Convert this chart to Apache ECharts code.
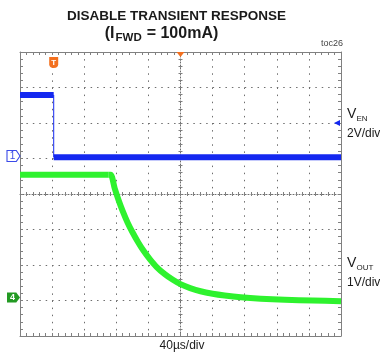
<!DOCTYPE html>
<html><head><meta charset="utf-8">
<script src="https://cdn.jsdelivr.net/npm/echarts@6/dist/echarts.min.js"></script>
<style>html,body{margin:0;padding:0;background:#fff}#c{width:380px;height:354px}</style>
</head><body><div id="c"></div>
<script>
// Time axis in microseconds (40 µs/div, 10 divisions)
const timeMin = -200, timeMax = 200, timeStep = 40;
// Channel 1: V_EN (2 V/div)
const enTime  = [-200, -158, -158, 200];
const enVolts = [3.58, 3.58, 0.07, 0.07];
// Channel 4: V_OUT (1 V/div)
const outFlatTime  = [-200, -90];
const outFlatVolts = [3.54, 3.54];
const outTime  = [-90, -87, -82, -77, -72, -66, -60, -53, -46, -38, -30, -20, -10, 0, 12, 25, 40, 55, 75, 100, 130, 165, 200];
const outVolts = [3.54, 3.54, 3.16, 2.82, 2.52, 2.2, 1.93, 1.65, 1.4, 1.16, 0.95, 0.75, 0.59, 0.46, 0.35, 0.26, 0.19, 0.14, 0.09, 0.05, 0.02, 0.0, -0.02];
const triggerTime = -158;
const triggerLevel = 2;

const BLUE = '#1428f0', GREEN = '#2ef22e', ORANGE = '#f3701f';
const GRAY = '#808080', DOT = '#6e6e6e';

const pts = (t, v) => t.map((x, i) => [x, v[i]]);
const enPts = pts(enTime, enVolts);
const enThick = [], enThin = [];
for (let i = 0; i < enPts.length - 1; i++) {
  if (enPts[i][0] === enPts[i + 1][0]) enThin.push([enPts[i], enPts[i + 1]]);
  else enThick.push([enPts[i], enPts[i + 1]]);
}

const chart = echarts.init(document.getElementById('c'), null, {renderer: 'canvas'});

const baseX = {
  type: 'value', min: timeMin, max: timeMax, interval: timeStep,
  axisLabel: {show: false}, splitLine: {show: false}
};
const borderTick = {show: true, inside: true, length: 3, lineStyle: {color: GRAY, width: 1}};
const borderMinor = {show: true, splitNumber: 5, length: 3, lineStyle: {color: GRAY, width: 1}};
const centerTick = (inside) => ({show: true, inside: inside, length: 2, lineStyle: {color: GRAY, width: 1}});
const centerMinor = {show: true, splitNumber: 5, length: 2, lineStyle: {color: GRAY, width: 1}};

const series = [];
enThick.forEach(seg => series.push({
  type: 'line', xAxisIndex: 0, yAxisIndex: 0, data: seg, symbol: 'none', silent: true,
  lineStyle: {color: BLUE, width: 6, cap: 'butt'}, z: 5
}));
enThin.forEach(seg => series.push({
  type: 'line', xAxisIndex: 0, yAxisIndex: 0, data: seg, symbol: 'none', silent: true,
  lineStyle: {color: BLUE, width: 1}, z: 5
}));
series.push({
  type: 'line', xAxisIndex: 0, yAxisIndex: 1, data: pts(outFlatTime, outFlatVolts), symbol: 'none', silent: true,
  lineStyle: {color: GREEN, width: 6, cap: 'butt'}, z: 4
});
series.push({
  type: 'line', xAxisIndex: 0, yAxisIndex: 1, data: pts(outTime, outVolts), symbol: 'none',
  smooth: 0.3, silent: true,
  lineStyle: {color: GREEN, width: 6, cap: 'butt', join: 'round'}, z: 4,
  markPoint: {
    silent: true, animation: false,
    data: [{
      coord: [timeMin, 0], symbol: 'path://M0,0 L10,0 L14,6 L10,12 L0,12 Z', symbolSize: [13, 10],
      symbolOffset: [-6.5, -3], itemStyle: {color: '#239a23'},
      label: {show: true, formatter: '4', color: '#fff', fontSize: 9, fontWeight: 'bold', fontFamily: 'Liberation Sans', position: 'inside', offset: [-1, 0]}
    }]
  }
});
// markers on channel 1
series.push({
  type: 'line', xAxisIndex: 0, yAxisIndex: 0, data: [], symbol: 'none', silent: true,
  markPoint: {
    silent: true, animation: false,
    data: [
      {coord: [timeMin, 0], symbol: 'path://M0,0 L10,0 L14,6 L10,12 L0,12 Z', symbolSize: [13, 11],
       symbolOffset: [-6.5, -2.5], itemStyle: {color: '#fff', borderColor: '#3a4ae8', borderWidth: 1},
       label: {show: true, formatter: '1', color: '#3a4ae8', fontSize: 10, fontFamily: 'Liberation Sans', position: 'inside', offset: [-1, 0]}},
      {coord: [triggerTime, 6], symbol: 'path://M0,0 L10,0 L10,8 Q10,12 5,12 Q0,12 0,8 Z', symbolSize: [9, 11],
       symbolOffset: [0, 10.5], itemStyle: {color: ORANGE},
       label: {show: true, formatter: 'T', color: '#fff', fontSize: 8, fontWeight: 'bold', fontFamily: 'Liberation Sans', position: 'inside'}},
      {coord: [0, 6], symbol: 'path://M0,0 L10,0 L5,6 Z', symbolSize: [8, 5],
       symbolOffset: [0, 2.5], itemStyle: {color: ORANGE}, label: {show: false}},
      {coord: [timeMax, triggerLevel], symbol: 'path://M7,0 L7,8 L0,4 Z', symbolSize: [6, 6],
       symbolOffset: [-4, 0], itemStyle: {color: BLUE}, label: {show: false}}
    ]
  }
});

const option = {
  animation: false,
  backgroundColor: '#fff',
  grid: {left: 20, top: 52, width: 321, height: 284, containLabel: false, outerBoundsMode: 'none'},
  xAxis: [
    Object.assign({}, baseX, {position: 'bottom',
      axisLine: {show: true, onZero: false, lineStyle: {color: GRAY, width: 1}},
      axisTick: borderTick, minorTick: borderMinor,
      splitLine: {show: true, lineStyle: {color: DOT, width: 1, type: [1.5, 5.6]}}}),
    Object.assign({}, baseX, {position: 'top',
      axisLine: {show: true, onZero: false, lineStyle: {color: GRAY, width: 1}},
      axisTick: borderTick, minorTick: borderMinor}),
    Object.assign({}, baseX, {position: 'bottom',
      axisLine: {show: true, onZero: true, onZeroAxisIndex: 2, lineStyle: {color: DOT, width: 1, type: [1, 2]}},
      axisTick: centerTick(true), minorTick: centerMinor}),
    Object.assign({}, baseX, {position: 'bottom',
      axisLine: {show: false, onZero: true, onZeroAxisIndex: 2},
      axisTick: centerTick(false), minorTick: centerMinor})
  ],
  yAxis: [
    {type: 'value', min: -10, max: 6, interval: 2, position: 'left',
      axisLine: {show: true, onZero: false, lineStyle: {color: GRAY, width: 1}},
      axisTick: borderTick, minorTick: borderMinor, axisLabel: {show: false},
      splitLine: {show: true, lineStyle: {color: DOT, width: 1, type: [1.5, 4.92]}}},
    {type: 'value', min: -1, max: 7, interval: 1, position: 'right',
      axisLine: {show: true, onZero: false, lineStyle: {color: GRAY, width: 1}},
      axisTick: borderTick, minorTick: borderMinor, axisLabel: {show: false}, splitLine: {show: false}},
    {type: 'value', min: -4, max: 4, interval: 1, position: 'left',
      axisLine: {show: true, onZero: true, onZeroAxisIndex: 0, lineStyle: {color: DOT, width: 1, type: [1, 2]}},
      axisTick: centerTick(true), minorTick: centerMinor, axisLabel: {show: false}, splitLine: {show: false}},
    {type: 'value', min: -4, max: 4, interval: 1, position: 'left',
      axisLine: {show: false, onZero: true, onZeroAxisIndex: 0},
      axisTick: centerTick(false), minorTick: centerMinor, axisLabel: {show: false}, splitLine: {show: false}}
  ],
  series: series,
  graphic: [
    {type: 'text', x: 176.5, y: 16, style: {text: 'DISABLE TRANSIENT RESPONSE', fill: '#1a1a1a',
      font: 'bold 13.5px "Liberation Sans", Arial, sans-serif', align: 'center', verticalAlign: 'middle'}},
    {type: 'text', x: 161.5, y: 34, style: {text: '{n|(I}{s|FWD}{n|= 100mA)}', fill: '#1a1a1a', align: 'center', verticalAlign: 'middle',
      rich: {n: {font: 'bold 16px "Liberation Sans", Arial, sans-serif', lineHeight: 19, fill: '#1a1a1a'},
             s: {font: 'bold 11.5px "Liberation Sans", Arial, sans-serif', lineHeight: 10, verticalAlign: 'bottom', fill: '#1a1a1a', padding: [0, 5, 0, 1]}}}},
    {type: 'text', x: 343, y: 44, style: {text: 'toc26', fill: '#444', font: '9px "Liberation Sans", Arial, sans-serif', align: 'right', verticalAlign: 'middle'}},
    {type: 'text', x: 347, y: 114, style: {text: 'V', fill: '#1a1a1a', font: '14px "Liberation Sans", Arial, sans-serif', align: 'left', verticalAlign: 'middle'}},
    {type: 'text', x: 356.5, y: 119, style: {text: 'EN', fill: '#1a1a1a', font: '8px "Liberation Sans", Arial, sans-serif', align: 'left', verticalAlign: 'middle'}},
    {type: 'text', x: 347, y: 133.5, style: {text: '2V/div', fill: '#1a1a1a', font: '12px "Liberation Sans", Arial, sans-serif', align: 'left', verticalAlign: 'middle'}},
    {type: 'text', x: 347, y: 263, style: {text: 'V', fill: '#1a1a1a', font: '14px "Liberation Sans", Arial, sans-serif', align: 'left', verticalAlign: 'middle'}},
    {type: 'text', x: 356.5, y: 268, style: {text: 'OUT', fill: '#1a1a1a', font: '8px "Liberation Sans", Arial, sans-serif', align: 'left', verticalAlign: 'middle'}},
    {type: 'text', x: 347, y: 282.5, style: {text: '1V/div', fill: '#1a1a1a', font: '12px "Liberation Sans", Arial, sans-serif', align: 'left', verticalAlign: 'middle'}},
    {type: 'text', x: 182, y: 346, style: {text: '40µs/div', fill: '#1a1a1a', font: '12px "Liberation Sans", Arial, sans-serif', align: 'center', verticalAlign: 'middle'}}
  ]
};
chart.setOption(option);
</script>
</body></html>
